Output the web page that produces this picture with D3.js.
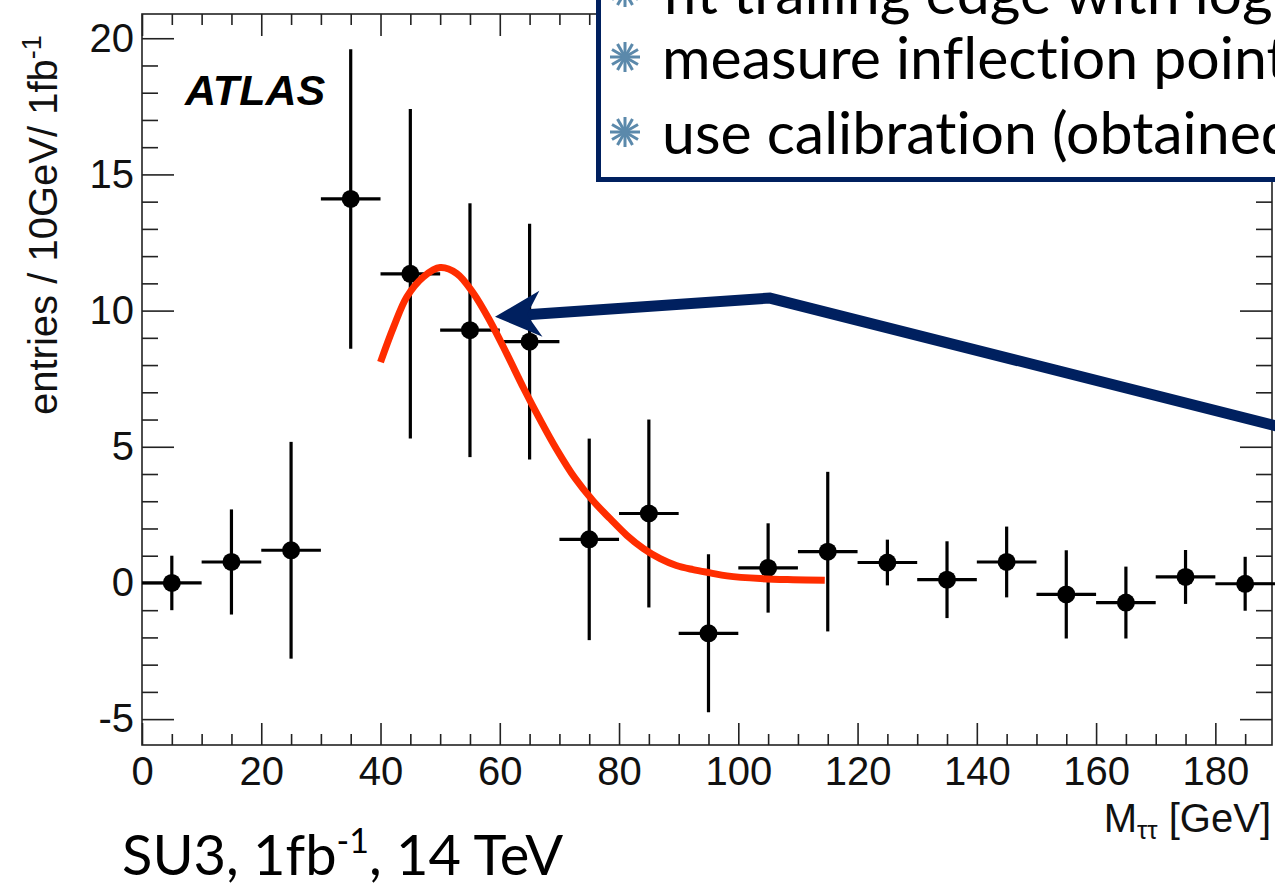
<!DOCTYPE html>
<html><head><meta charset="utf-8">
<script src="https://cdn.jsdelivr.net/npm/d3@7"></script>
<style>body{margin:0;background:#fff;overflow:hidden} svg{display:block} text{font-variant-ligatures:none}</style>
</head><body><svg id="c" width="1275" height="885"></svg>
<script>
// ---------- data ----------
const binCenters = [5, 15, 25, 35, 45, 55, 65, 75, 85, 95, 105, 115, 125, 135, 145, 155, 165, 175, 185];
const values     = [0.0, 0.77, 1.2, 14.1, 11.35, 9.28, 8.86, 1.6, 2.55, -1.85, 0.55, 1.15, 0.75, 0.12, 0.77, -0.42, -0.72, 0.22, -0.03];
const errors     = [1.0, 1.93, 3.98, 5.5, 6.05, 4.66, 4.33, 3.7, 3.45, 2.9, 1.64, 2.93, 0.84, 1.41, 1.3, 1.62, 1.32, 0.99, 0.99];
const binWidth = 10;

const fitX = [40.0, 42.2, 44.4, 47.2, 50.0, 52.8, 55.6, 58.4, 61.2, 64.0, 66.8, 69.5, 72.6, 75.7, 78.5, 81.3, 84.1, 86.9, 89.6, 92.4, 95.3, 98.1, 103.7, 109.2, 114.5];
const fitY = [8.11, 9.4, 10.5, 11.24, 11.58, 11.36, 10.63, 9.6, 8.4, 7.15, 5.98, 4.92, 3.85, 3.0, 2.36, 1.75, 1.26, 0.89, 0.64, 0.49, 0.37, 0.26, 0.16, 0.12, 0.1];

const xMajorTicks = [0, 20, 40, 60, 80, 100, 120, 140, 160, 180];
const yMajorTicks = [-5, 0, 5, 10, 15, 20];

const legendLines = ["fit trailing edge with log", "measure inflection point", "use calibration (obtained"];
// arrow annotation path in data units: tip, corner, far end
const arrowPts = [[59.2, 9.77], [105.3, 10.46], [190.5, 5.75]];

// ---------- setup ----------
const svg = d3.select("#c");
svg.append("rect").attr("width", 1275).attr("height", 885).attr("fill", "#fff");

const L = 142, R = 1272, T = 14, B = 745;
const x = d3.scaleLinear().domain([0, 189.5]).range([L, R]);
const y = d3.scaleLinear().domain([-5.95, 20.89]).range([B, T]);

const axisFont = "'Liberation Sans', Arial, Helvetica, sans-serif";
const gillFont = "Lato, 'Open Sans', sans-serif";
const fmt = v => String(v);  // plain hyphen minus like ROOT

// minor ticks
const xMinor = d3.range(0, 190, 5).filter(v => v % 20 !== 0);
const yMinor = d3.range(-5, 21, 1).filter(v => v % 5 !== 0);

function styleAxis(g) {
  g.select(".domain").remove();
  g.selectAll(".tick line").attr("stroke", "#222").attr("stroke-width", 1.6);
  g.selectAll(".tick text").attr("font-family", axisFont).attr("font-size", 40).attr("fill", "#111");
}

// bottom
svg.append("g").attr("transform", `translate(0,${B})`)
  .call(d3.axisBottom(x).tickValues(xMajorTicks).tickSize(-22).tickPadding(12).tickFormat(fmt))
  .call(styleAxis);
svg.append("g").attr("transform", `translate(0,${B})`)
  .call(d3.axisBottom(x).tickValues(xMinor).tickSize(-11).tickFormat(""))
  .call(styleAxis);
// top
svg.append("g").attr("transform", `translate(0,${T})`)
  .call(d3.axisTop(x).tickValues(xMajorTicks).tickSize(-22).tickFormat(""))
  .call(styleAxis);
svg.append("g").attr("transform", `translate(0,${T})`)
  .call(d3.axisTop(x).tickValues(xMinor).tickSize(-11).tickFormat(""))
  .call(styleAxis);
// left
svg.append("g").attr("transform", `translate(${L},0)`)
  .call(d3.axisLeft(y).tickValues(yMajorTicks).tickSize(-32).tickPadding(8).tickFormat(fmt))
  .call(styleAxis);
svg.append("g").attr("transform", `translate(${L},0)`)
  .call(d3.axisLeft(y).tickValues(yMinor).tickSize(-16).tickFormat(""))
  .call(styleAxis);
// right
svg.append("g").attr("transform", `translate(${R},0)`)
  .call(d3.axisRight(y).tickValues(yMajorTicks).tickSize(-32).tickFormat(""))
  .call(styleAxis);
svg.append("g").attr("transform", `translate(${R},0)`)
  .call(d3.axisRight(y).tickValues(yMinor).tickSize(-16).tickFormat(""))
  .call(styleAxis);

// frame
svg.append("rect").attr("x", L).attr("y", T).attr("width", R - L).attr("height", B - T)
  .attr("fill", "none").attr("stroke", "#222").attr("stroke-width", 1.6);

// ---------- data points ----------
const pts = binCenters.map((c, i) => ({c, v: values[i], e: errors[i]}));
const gp = svg.append("g");
gp.selectAll("line.v").data(pts).join("line").attr("class", "v")
  .attr("x1", d => x(d.c)).attr("x2", d => x(d.c))
  .attr("y1", d => y(d.v + d.e)).attr("y2", d => y(d.v - d.e))
  .attr("stroke", "#000").attr("stroke-width", 3.2);
gp.selectAll("line.h").data(pts).join("line").attr("class", "h")
  .attr("x1", d => x(d.c - binWidth / 2)).attr("x2", d => x(d.c + binWidth / 2))
  .attr("y1", d => y(d.v)).attr("y2", d => y(d.v))
  .attr("stroke", "#000").attr("stroke-width", 3.2);
gp.selectAll("circle").data(pts).join("circle")
  .attr("cx", d => x(d.c)).attr("cy", d => y(d.v)).attr("r", 9).attr("fill", "#000");

// ---------- fit curve ----------
svg.append("path").datum(fitX.map((v, i) => [v, fitY[i]]))
  .attr("d", d3.line().x(d => x(d[0])).y(d => y(d[1])).curve(d3.curveCatmullRom.alpha(0.5)))
  .attr("fill", "none").attr("stroke", "#ff2d00").attr("stroke-width", 7);

// ---------- ATLAS label ----------
svg.append("text").attr("x", 185).attr("y", 105)
  .attr("font-family", axisFont).attr("font-size", 43).attr("font-weight", "bold").attr("font-style", "italic")
  .text("ATLAS");

// ---------- axis titles ----------
const yt = svg.append("text").attr("transform", "translate(57,415) rotate(-90)")
  .attr("font-family", axisFont).attr("font-size", 40).attr("fill", "#111");
yt.append("tspan").text("entries / 10GeV/ 1fb");
yt.append("tspan").attr("font-size", 27).attr("dy", -16).text("-1");

const xt = svg.append("text").attr("x", 1271).attr("y", 832).attr("text-anchor", "end")
  .attr("font-family", axisFont).attr("font-size", 40).attr("fill", "#111");
xt.append("tspan").text("M");
xt.append("tspan").attr("font-size", 26).attr("dy", 7).text("ττ");
xt.append("tspan").attr("dy", -7).text(" [GeV]");

// ---------- arrow ----------
const navy = "#00205f";
const ap = arrowPts.map(p => [x(p[0]), y(p[1])]);
const tip = ap[0], corner = ap[1];
const dx = corner[0] - tip[0], dy = corner[1] - tip[1];
const len = Math.hypot(dx, dy), ux = dx / len, uy = dy / len, nx = -uy, ny = ux;
const headLen = 46, headW = 23, notch = 32;
const notchPt = [tip[0] + ux * notch, tip[1] + uy * notch];
svg.append("path")
  .attr("d", d3.line()([notchPt, corner, ap[2]]))
  .attr("fill", "none").attr("stroke", navy).attr("stroke-width", 11).attr("stroke-linejoin", "miter");
svg.append("path")
  .attr("d", d3.line()([tip,
    [tip[0] + ux * headLen + nx * headW, tip[1] + uy * headLen + ny * headW],
    notchPt,
    [tip[0] + ux * headLen - nx * headW, tip[1] + uy * headLen - ny * headW]]) + "Z")
  .attr("fill", navy);

// ---------- legend box ----------
svg.append("rect").attr("x", 598.5).attr("y", -20).attr("width", 720).attr("height", 199.5)
  .attr("fill", "#fff").attr("stroke", navy).attr("stroke-width", 5);
const lineY = [14, 79, 154];
const starC = "#5b89ab";
function star(cx, cy, r) {
  const g = svg.append("g").attr("transform", `translate(${cx},${cy})`);
  g.selectAll("line").data(d3.range(12)).join("line")
    .attr("x1", 0).attr("y1", 0)
    .attr("x2", i => r * Math.cos(i * Math.PI / 6)).attr("y2", i => r * Math.sin(i * Math.PI / 6))
    .attr("stroke", starC).attr("stroke-width", 3).attr("stroke-linecap", "butt");
  g.append("circle").attr("r", 4).attr("fill", starC);
}
legendLines.forEach((t, i) => {
  svg.append("text").attr("x", 662).attr("y", lineY[i])
    .attr("font-family", gillFont).attr("font-size", 59).attr("fill", "#000").text(t);
  star(625, lineY[i] - 22, 15);
});

// ---------- bottom caption ----------
const cap = svg.append("text").attr("x", 122).attr("y", 875)
  .attr("font-family", gillFont).attr("font-size", 56).attr("fill", "#000");
cap.append("tspan").text("SU3, 1fb");
cap.append("tspan").attr("font-size", 34).attr("dy", -22).text("-1");
cap.append("tspan").attr("dy", 22).text(", 14 TeV");
</script></body></html>
